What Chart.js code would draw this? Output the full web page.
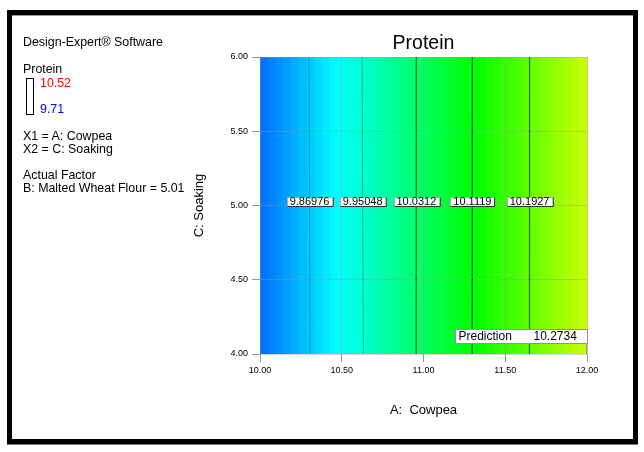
<!DOCTYPE html>
<html>
<head>
<meta charset="utf-8">
<script src="https://cdn.jsdelivr.net/npm/chart.js@4.4.1/dist/chart.umd.min.js"></script>
<style>
  body { margin: 0; background: #fff; font-family: Arial, "Liberation Sans", sans-serif; }
  #wrap { position: relative; width: 644px; height: 452px; overflow: hidden; }
  #chart { position: absolute; left: 0; top: 0; }
  #frame { position: absolute; left: 7px; top: 10px; width: 621px; height: 424px;
           border: 5px solid #000; box-shadow: 0 1px 0 #777, inset 0 1px 0 #999; }
  .note { position: absolute; left: 23px; font-size: 12.4px; line-height: 13px; color: #000; white-space: nowrap; }
  #legendBox { position: absolute; left: 26px; top: 78px; width: 8px; height: 37px;
               border: 1px solid #000; box-sizing: border-box; }
</style>
</head>
<body>
<div id="wrap">
  <canvas id="chart" width="644" height="452"></canvas>
  <div id="frame"></div>
  <div class="note" style="top:36px">Design-Expert® Software</div>
  <div class="note" style="top:63px">Protein</div>
  <div id="legendBox"></div>
  <div class="note" style="top:77px;left:40px;color:#f00">10.52</div>
  <div class="note" style="top:103px;left:40px;color:#00f">9.71</div>
  <div class="note" style="top:130px">X1 = A: Cowpea</div>
  <div class="note" style="top:143px">X2 = C: Soaking</div>
  <div class="note" style="top:169px">Actual Factor</div>
  <div class="note" style="top:182px">B: Malted Wheat Flour = 5.01</div>
</div>
<script>
// axis ranges and ticks
var cowpeaRange = [10, 12];
var soakingRange = [4, 6];
var xTicks = [10, 10.5, 11, 11.5, 12];
var yTicks = [4, 4.5, 5, 5.5, 6];

// contour levels and where they cross the top (C=6) and bottom (C=4) edges
var contourLevels = [9.86976, 9.95048, 10.0312, 10.1119, 10.1927];
var contourTopX = [10.300, 10.624, 10.958, 11.300, 11.650];
var contourBottomX = [10.306, 10.632, 10.955, 11.298, 11.648];

// response at the left and right edge of the plot (estimated)
var edgeValues = [9.796, 10.278];
// colour legend range
var legendRange = [9.71, 10.52];

// prediction flag
var predictionPoint = [12, 4];
var predictionValue = 10.2734;

// design-expert style colour ramp: blue > cyan > green > yellow > red
function rampColor(v) {
  var t = (v - legendRange[0]) / (legendRange[1] - legendRange[0]);
  t = Math.max(0, Math.min(1, t));
  var r, g, b;
  if (t < 0.25) { r = 0; g = t / 0.25; b = 1; }
  else if (t < 0.5) { r = 0; g = 1; b = 1 - (t - 0.25) / 0.25; }
  else if (t < 0.75) { r = (t - 0.5) / 0.25; g = 1; b = 0; }
  else { r = 1; g = 1 - (t - 0.75) / 0.25; b = 0; }
  return 'rgb(' + Math.round(r * 255) + ',' + Math.round(g * 255) + ',' + Math.round(b * 255) + ')';
}

// value at cowpea = a along the known contour crossings
function valueAt(a) {
  var xs = [cowpeaRange[0]].concat(contourTopX.map(function(v, i) { return (v + contourBottomX[i]) / 2; }), [cowpeaRange[1]]);
  var vs = [edgeValues[0]].concat(contourLevels, [edgeValues[1]]);
  for (var i = 0; i < xs.length - 1; i++) {
    if (a <= xs[i + 1]) {
      var f = (a - xs[i]) / (xs[i + 1] - xs[i]);
      return vs[i] + f * (vs[i + 1] - vs[i]);
    }
  }
  return vs[vs.length - 1];
}

var fieldPlugin = {
  id: 'field',
  beforeDraw: function(chart) {
    var ctx = chart.ctx, a = chart.chartArea, x = chart.scales.x;
    var bands = 42;
    var step = (cowpeaRange[1] - cowpeaRange[0]) / bands;
    ctx.save();
    for (var i = 0; i < bands; i++) {
      var a0 = cowpeaRange[0] + i * step;
      var p0 = x.getPixelForValue(a0), p1 = x.getPixelForValue(a0 + step);
      ctx.fillStyle = rampColor(valueAt(a0 + step / 2));
      ctx.fillRect(p0, a.top, p1 - p0 + 0.6, a.bottom - a.top);
    }
    ctx.restore();
  },
  afterDatasetsDraw: function(chart) {
    var ctx = chart.ctx, x = chart.scales.x, y = chart.scales.y;
    ctx.save();
    // contour labels along C = 5
    ctx.font = '11px Arial, "Liberation Sans"';
    ctx.textAlign = 'center';
    ctx.textBaseline = 'middle';
    var yl = y.getPixelForValue(5);
    contourLevels.forEach(function(lv, i) {
      var cx = x.getPixelForValue((contourTopX[i] + contourBottomX[i]) / 2);
      var txt = String(lv);
      var w = ctx.measureText(txt).width + 6;
      var bx = Math.round(cx - w / 2) + 0.5, by = Math.round(yl - 9) + 0.5;
      ctx.fillStyle = '#fff';
      ctx.fillRect(bx, by, w, 9);
      ctx.strokeStyle = '#aaa';
      ctx.lineWidth = 1;
      ctx.strokeRect(bx, by, w, 9);
      ctx.strokeStyle = '#333';
      ctx.beginPath();
      ctx.moveTo(bx + w, by); ctx.lineTo(bx + w, by + 9); ctx.lineTo(bx, by + 9);
      ctx.stroke();
      ctx.fillStyle = '#000';
      ctx.fillText(txt, cx, yl - 4);
    });
    // prediction flag
    var px = x.getPixelForValue(predictionPoint[0]);
    var py = y.getPixelForValue(predictionPoint[1]);
    var bw = 132, bh = 14;
    var bx = Math.round(px - bw) + 0.5, by = Math.round(py - 25) + 0.5;
    ctx.fillStyle = '#fff';
    ctx.fillRect(bx, by, bw, bh);
    ctx.strokeStyle = '#8a8ad0';
    ctx.strokeRect(bx, by, bw, bh);
    ctx.beginPath();
    ctx.moveTo(Math.round(px) - 0.5, by + bh);
    ctx.lineTo(Math.round(px) - 0.5, py);
    ctx.stroke();
    ctx.font = '12px Arial, "Liberation Sans"';
    ctx.textAlign = 'left';
    ctx.fillStyle = '#000';
    ctx.fillText('Prediction', bx + 3, by + bh / 2 + 0.5);
    ctx.fillText(String(predictionValue), bx + 78, by + bh / 2 + 0.5);
    ctx.restore();
  }
};

var contourSets = contourLevels.map(function(lv, i) {
  return {
    label: String(lv),
    data: [{ x: contourTopX[i], y: soakingRange[1] }, { x: contourBottomX[i], y: soakingRange[0] }],
    showLine: true,
    borderColor: 'rgba(0,40,40,0.35)',
    borderWidth: 1,
    pointRadius: 0
  };
});

var ctx = document.getElementById('chart').getContext('2d');
var chart = new Chart(ctx, {
  type: 'scatter',
  data: { datasets: contourSets },
  plugins: [fieldPlugin],
  options: {
    responsive: false,
    animation: false,
    events: [],
    layout: { padding: { left: 192, right: 57, top: 32, bottom: 34 } },
    plugins: {
      legend: { display: false },
      tooltip: { enabled: false },
      title: {
        display: true,
        fullSize: false,
        text: 'Protein',
        color: '#000',
        font: { family: 'Arial, "Liberation Sans"', size: 19.5, weight: 'normal' },
        padding: { top: 0, bottom: 1.6 }
      }
    },
    scales: {
      x: {
        type: 'linear',
        min: cowpeaRange[0],
        max: cowpeaRange[1],
        afterBuildTicks: function(s) { s.ticks = xTicks.map(function(v) { return { value: v }; }); },
        afterFit: function(s) { s.height = 64; },
        ticks: {
          callback: function(v) { return v.toFixed(2); },
          color: '#000',
          font: { family: 'Arial, "Liberation Sans"', size: 9 },
          padding: 3,
          maxRotation: 0,
          autoSkip: false
        },
        grid: { color: 'rgba(150,150,150,0.4)', tickColor: '#999', tickLength: 8 },
        border: { display: false },
        title: {
          display: true,
          text: 'A:  Cowpea',
          color: '#000',
          font: { family: 'Arial, "Liberation Sans"', size: 13 },
          padding: { top: 0, bottom: 0 }
        }
      },
      y: {
        type: 'linear',
        min: soakingRange[0],
        max: soakingRange[1],
        afterBuildTicks: function(s) { s.ticks = yTicks.map(function(v) { return { value: v }; }); },
        afterFit: function(s) { s.width = 68; },
        ticks: {
          callback: function(v) { return v.toFixed(2); },
          color: '#000',
          font: { family: 'Arial, "Liberation Sans"', size: 9 },
          padding: 4,
          autoSkip: false
        },
        grid: { color: 'rgba(150,150,150,0.4)', tickColor: '#999', tickLength: 8 },
        border: { display: false },
        title: {
          display: true,
          text: 'C: Soaking',
          color: '#000',
          font: { family: 'Arial, "Liberation Sans"', size: 13 },
          padding: { top: 0, bottom: 0 }
        }
      }
    }
  }
});
</script>
</body>
</html>
